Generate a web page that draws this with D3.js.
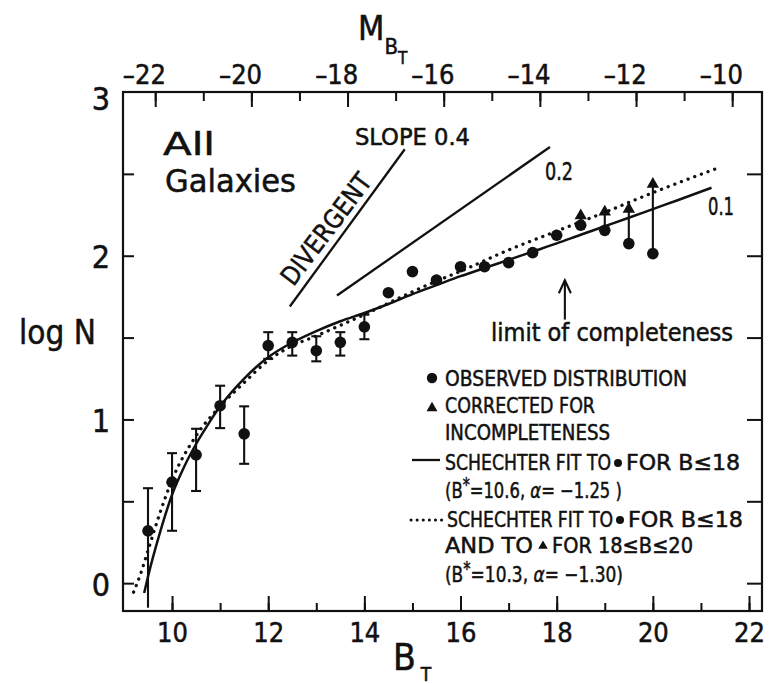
<!DOCTYPE html>
<html><head><meta charset="utf-8">
<script src="https://cdn.jsdelivr.net/npm/d3@7"></script>
<style>
html,body{margin:0;padding:0;background:#fff;}
svg text{font-family:"DejaVu Sans Condensed","DejaVu Sans",sans-serif;font-stretch:condensed;fill:#111;stroke:#111;stroke-width:0.5px;}
</style></head><body>
<svg id="chart" width="773" height="684"></svg>
<script>
// Observed galaxy counts per half-magnitude bin (log N versus total blue magnitude B_T)
const bMag = [9.5,10,10.5,11,11.5,12,12.5,13,13.5,14,14.5,15,15.5,16,16.5,17,17.5,18,18.5,19,19.5,20];
const logN = [0.32,0.617,0.784,1.084,0.912,1.451,1.471,1.42,1.471,1.566,1.774,1.903,1.851,1.933,1.933,1.958,2.019,2.125,2.186,2.155,2.074,2.013];

// Error bars on the bright bins (the faintest of them runs off the bottom without a cap)
const errB = [9.5,10,10.5,11,11.5,12,12.5,13,13.5,14];
const errHigh = [0.58,0.794,0.943,1.206,1.08,1.533,1.533,1.508,1.533,1.64];
const errLow = [-0.15,0.32,0.563,0.947,0.729,1.37,1.39,1.355,1.39,1.49];
const errLowCap = [false,true,true,true,true,true,true,true,true,true];

// Counts corrected for incompleteness
const corrB = [18.5,19,19.5,20];
const corrLogN = [2.245,2.268,2.284,2.437];

// Schechter fit to the observed points, B <= 18 (B* = 10.6, alpha = -1.25)
const fitSolidB = [9.42,9.5,9.75,10,10.25,10.5,10.75,11,11.5,12,12.5,13,13.5,14,14.5,15,15.5,16,16.5,17,17.5,18,18.5,19,19.5,20,20.5,21.22];
const fitSolidLogN = [-0.06,0.04,0.31,0.54,0.71,0.85,0.97,1.08,1.25,1.38,1.47,1.54,1.6,1.65,1.705,1.765,1.82,1.875,1.925,1.975,2.025,2.075,2.128,2.18,2.232,2.285,2.337,2.415];

// Schechter fit including the corrected points (B* = 10.3, alpha = -1.30)
const fitDotB = [9.2,9.35,9.5,9.75,10,10.5,11,11.5,12,12.5,13,13.5,14,14.5,15,15.5,16,17,18,19,20,21.3];
const fitDotLogN = [-0.055,0.06,0.2,0.43,0.63,0.9,1.08,1.225,1.36,1.45,1.51,1.575,1.64,1.71,1.78,1.845,1.905,2.035,2.15,2.265,2.385,2.53];

// Reference slopes
const slope04B = [12.45,14.84];
const slope04LogN = [1.69,2.65];
const slope02B = [13.43,17.86];
const slope02LogN = [1.757,2.664];

// Limit of completeness marker
const limitB = 18.17;
const limitLogN = [1.61,1.85];

// Axis ticks
const bTicks = d3.range(10,23);
const bLabelTicks = [10,12,14,16,18,20,22];
const mTicks = d3.range(-22,-9);
const mLabelTicks = [-22,-20,-18,-16,-14,-12,-10];
const yTicks = [0,0.5,1,1.5,2,2.5];
const yLabelTicks = [0,1,2,3];
const distanceModulus = 31.65;

const svg = d3.select("#chart");
const pL = 123, pR = 762, pT = 92, pB = 611;

const x = d3.scaleLinear().domain([8.98,22.27]).range([pL,pR]);
const y = d3.scaleLinear().domain([-0.17,3]).range([pB,pT]);
const xM = d3.scaleLinear().domain([8.98-distanceModulus,22.27-distanceModulus]).range([pL,pR]);

const ink = "#111";

// frame
svg.append("rect").attr("x",pL).attr("y",pT).attr("width",pR-pL).attr("height",pB-pT)
  .attr("fill","none").attr("stroke",ink).attr("stroke-width",2.2);

function styleAxis(g){
  g.select(".domain").remove();
  g.selectAll(".tick line").attr("stroke",ink).attr("stroke-width",2);
  g.selectAll(".tick text").attr("fill",ink).attr("font-family",null);
}

// bottom axis: minor and major ticks, labels
svg.append("g").attr("transform",`translate(0,${pB})`)
  .call(d3.axisBottom(x).tickValues(bTicks).tickSize(-8).tickFormat("")).call(styleAxis);
svg.append("g").attr("transform",`translate(0,${pB})`)
  .call(d3.axisBottom(x).tickValues(bLabelTicks).tickSize(-15).tickPadding(12).tickFormat(d3.format("d")))
  .call(styleAxis)
  .call(g=>g.selectAll("text").attr("font-size",27).attr("dy","0.72em"));

// top axis in absolute magnitude
svg.append("g").attr("transform",`translate(0,${pT})`)
  .call(d3.axisTop(xM).tickValues(mTicks).tickSize(-9).tickFormat("")).call(styleAxis);
svg.append("g").attr("transform",`translate(0,${pT})`)
  .call(d3.axisTop(xM).tickValues(mLabelTicks).tickSize(-15).tickPadding(8).tickFormat(d=>"\u2013"+Math.abs(d)))
  .call(styleAxis)
  .call(g=>g.selectAll("text").attr("font-size",27).attr("dy","0").attr("dx","-0.42em"));

// left axis
svg.append("g").attr("transform",`translate(${pL},0)`)
  .call(d3.axisLeft(y).tickValues(yTicks).tickSize(-11).tickFormat("")).call(styleAxis);
svg.append("g").attr("transform",`translate(${pL},0)`)
  .call(d3.axisLeft(y).tickValues(yLabelTicks).tickSize(0).tickPadding(13).tickFormat(d3.format("d")))
  .call(styleAxis)
  .call(g=>g.selectAll("text").attr("font-size",32).attr("dy",d=>d===3?"0.55em":"0.38em"));

// right axis ticks
svg.append("g").attr("transform",`translate(${pR},0)`)
  .call(d3.axisRight(y).tickValues(yTicks).tickSize(-15).tickFormat("")).call(styleAxis);

// axis titles
const mt = svg.append("text").attr("x",358).attr("y",40).attr("font-size",34);
mt.append("tspan").text("M");
mt.append("tspan").attr("font-size",22).attr("dy",14).text("B");
mt.append("tspan").attr("font-size",17).attr("dy",10).text("T");

const bt = svg.append("text").attr("x",393).attr("y",670).attr("font-size",37);
bt.append("tspan").text("B");
bt.append("tspan").attr("font-size",19).attr("dx",5).attr("dy",11).text("T");

svg.append("text").attr("x",19).attr("y",344).attr("font-size",33).text("log N");

// reference slope lines
const line = d3.line().x(d=>x(d[0])).y(d=>y(d[1]));
svg.append("path").datum(d3.zip(slope04B,slope04LogN)).attr("d",line)
  .attr("fill","none").attr("stroke",ink).attr("stroke-width",2.3);
svg.append("path").datum(d3.zip(slope02B,slope02LogN)).attr("d",line)
  .attr("fill","none").attr("stroke",ink).attr("stroke-width",2.3);

// fits
const smooth = d3.line().x(d=>x(d[0])).y(d=>y(d[1])).curve(d3.curveMonotoneX);
svg.append("path").datum(d3.zip(fitSolidB,fitSolidLogN)).attr("d",smooth)
  .attr("fill","none").attr("stroke",ink).attr("stroke-width",2.5);
svg.append("path").datum(d3.zip(fitDotB,fitDotLogN)).attr("d",smooth)
  .attr("fill","none").attr("stroke",ink).attr("stroke-width",3.3)
  .attr("stroke-linecap","round").attr("stroke-dasharray","0.1 7");

// error bars
const capW = 5;
errB.forEach((b,i)=>{
  const g = svg.append("g").attr("stroke",ink).attr("stroke-width",2.1);
  g.append("line").attr("x1",x(b)).attr("x2",x(b)).attr("y1",y(errHigh[i])).attr("y2",y(errLow[i]));
  g.append("line").attr("x1",x(b)-capW).attr("x2",x(b)+capW).attr("y1",y(errHigh[i])).attr("y2",y(errHigh[i]));
  if (errLowCap[i]) g.append("line").attr("x1",x(b)-capW).attr("x2",x(b)+capW).attr("y1",y(errLow[i])).attr("y2",y(errLow[i]));
});

// arrows from observed to corrected counts
corrB.forEach((b,i)=>{
  const j = bMag.indexOf(b);
  svg.append("line").attr("x1",x(b)).attr("x2",x(b)).attr("y1",y(logN[j])).attr("y2",y(corrLogN[i]))
    .attr("stroke",ink).attr("stroke-width",2.1);
});
svg.append("g").selectAll("path").data(d3.zip(corrB,corrLogN)).join("path")
  .attr("d",d3.symbol(d3.symbolTriangle,66))
  .attr("transform",d=>`translate(${x(d[0])},${y(d[1])})`).attr("fill",ink);

// observed points
svg.append("g").selectAll("circle").data(d3.zip(bMag,logN)).join("circle")
  .attr("cx",d=>x(d[0])).attr("cy",d=>y(d[1])).attr("r",5.8).attr("fill",ink);

// limit of completeness arrow
const lx = x(limitB), ly0 = y(limitLogN[0]), ly1 = y(limitLogN[1]);
svg.append("line").attr("x1",lx).attr("x2",lx).attr("y1",ly0).attr("y2",ly1).attr("stroke",ink).attr("stroke-width",2.1);
svg.append("path").attr("d",`M${lx-6},${ly1+13}L${lx},${ly1}L${lx+6},${ly1+13}`)
  .attr("fill","none").attr("stroke",ink).attr("stroke-width",2.1);

// text helper: draws a string and squeezes or stretches it to the given width
function label(txt,px,py,size,len){
  const t = svg.append("text").attr("x",px).attr("y",py).attr("font-size",size).text(txt);
  if (len) t.attr("textLength",len).attr("lengthAdjust","spacingAndGlyphs");
  return t;
}
// scales a composite text (with tspans) horizontally about its start
function fitWidth(t,px,len){
  const w = t.node().getBBox().width;
  const s = len / w;
  t.attr("transform",`translate(${px},0) scale(${s},1) translate(${-px},0)`);
}

// panel title on two lines
label("All",163,155,32,52);
label("Galaxies",165,192,32,131);

label("SLOPE 0.4",355,145,23,115);
label("0.2",545,180,24,28);
label("0.1",708,215,24,26);
label("limit of completeness",491,341,25,242);
svg.append("text").attr("font-size",26).attr("text-anchor","middle")
  .attr("transform","translate(326,229) rotate(-53)").attr("dy","0.35em")
  .attr("textLength",132).attr("lengthAdjust","spacingAndGlyphs").text("DIVERGENT");

// legend
const lg = svg.append("g");
const lgSize = 22;
lg.append("circle").attr("cx",432).attr("cy",378).attr("r",5.2).attr("fill",ink);
label("OBSERVED DISTRIBUTION",445,386,lgSize,242);
lg.append("path").attr("d",d3.symbol(d3.symbolTriangle,52)).attr("transform","translate(432,408)").attr("fill",ink);
label("CORRECTED FOR",445,413,lgSize,150);
label("INCOMPLETENESS",445,440,lgSize,165);

lg.append("line").attr("x1",412).attr("x2",440).attr("y1",460).attr("y2",460).attr("stroke",ink).attr("stroke-width",2.3);
label("SCHECHTER  FIT  TO",445,470,lgSize,166);
lg.append("circle").attr("cx",618).attr("cy",463).attr("r",4).attr("fill",ink);
label("FOR B\u226418",626,470,lgSize,114);

function paramLine(py,bstar,alpha){
  const t = svg.append("text").attr("x",445).attr("y",py).attr("font-size",lgSize);
  t.append("tspan").text("(B");
  t.append("tspan").attr("font-size",19).attr("dy",-7).text("*");
  t.append("tspan").attr("dy",7).text("=" + bstar + ", ");
  t.append("tspan").attr("font-style","italic").text("\u03B1");
  t.append("tspan").text("= \u2212" + alpha);
  return t;
}
fitWidth(paramLine(498,"10.6","1.25 )"),445,177);

lg.append("line").attr("x1",411).attr("x2",442).attr("y1",520).attr("y2",520).attr("stroke",ink)
  .attr("stroke-width",3).attr("stroke-linecap","round").attr("stroke-dasharray","0.1 6");
label("SCHECHTER  FIT  TO",447,527,lgSize,166);
lg.append("circle").attr("cx",620).attr("cy",520).attr("r",4).attr("fill",ink);
label("FOR B\u226418",628,527,lgSize,115);

label("AND  TO",445,553,lgSize,88);
lg.append("path").attr("d",d3.symbol(d3.symbolTriangle,40)).attr("transform","translate(543,546)").attr("fill",ink);
label("FOR  18\u2264B\u226420",552,553,lgSize,141);

fitWidth(paramLine(582,"10.3","1.30)"),445,178);
</script>
</body></html>
